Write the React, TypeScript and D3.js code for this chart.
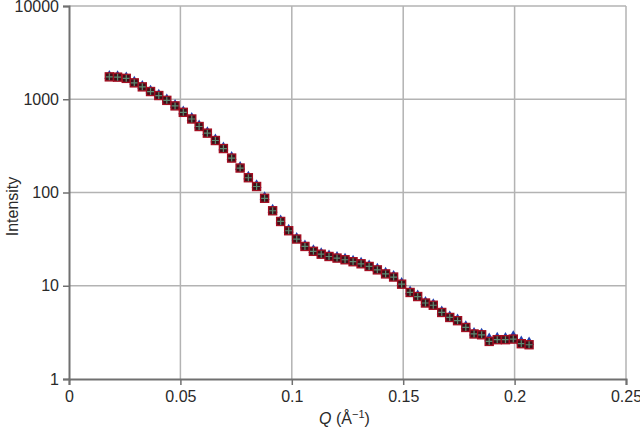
import React, { useEffect, useRef } from 'react';
import * as d3 from 'd3';

// scattering vector Q (1/Å)
const qValues = [
  0.0181, 0.0218, 0.0257, 0.0293, 0.0329, 0.0366, 0.0403, 0.0439, 0.0476, 0.0513,
  0.0551, 0.0584, 0.0621, 0.0657, 0.0693, 0.073, 0.0768, 0.0805, 0.0842, 0.0878,
  0.0914, 0.095, 0.0986, 0.1022, 0.1059, 0.1097, 0.1132, 0.1167, 0.1203, 0.1239,
  0.1275, 0.1311, 0.1347, 0.1384, 0.1421, 0.1457, 0.1493, 0.1531, 0.1565, 0.16,
  0.1635, 0.1673, 0.1709, 0.1744, 0.1781, 0.1818, 0.1852, 0.1886, 0.1922, 0.1959,
  0.1994, 0.203, 0.2065,
];

// measured intensity (squares)
const intensityA = [
  1738, 1726, 1675, 1499, 1358, 1210, 1096, 973, 849, 724,
  614, 510, 433, 361, 296, 234, 183, 144, 116, 86.7,
  63.7, 48.9, 38.9, 31.7, 26.4, 23.4, 21.8, 20.6, 19.8, 19.0,
  18.1, 17.2, 16.1, 14.8, 13.4, 12.4, 10.4, 8.47, 7.66, 6.53,
  6.18, 5.17, 4.57, 4.22, 3.57, 3.04, 2.98, 2.53, 2.64, 2.64,
  2.68, 2.39, 2.33,
];

// second data set (triangles)
const intensityB = [
  1740, 1728, 1680, 1505, 1360, 1212, 1098, 975, 851, 726,
  616, 512, 434, 362, 297, 235, 184, 145, 117, 87.0,
  64.0, 49.1, 39.0, 31.8, 26.5, 23.5, 21.9, 20.7, 19.9, 19.1,
  18.2, 17.3, 16.2, 14.9, 13.5, 12.5, 10.5, 8.5, 7.7, 6.56,
  6.2, 5.2, 4.6, 4.25, 3.6, 3.06, 3.0, 2.66, 2.72, 2.7,
  2.82, 2.48, 2.42,
];

const xTicks = [0, 0.05, 0.1, 0.15, 0.2, 0.25];
const yTicks = [1, 10, 100, 1000, 10000];

const App: React.FC = () => {
  const chartRef = useRef<SVGSVGElement | null>(null);

  useEffect(() => {
    if (!chartRef.current) return;
    const width = 640;
    const height = 433;
    const margin = { top: 6, right: 14, bottom: 54, left: 69 };
    const innerW = width - margin.left - margin.right;
    const innerH = height - margin.top - margin.bottom;

    const svg = d3.select(chartRef.current);
    svg.selectAll('*').remove();
    svg.attr('width', width).attr('height', height);

    const font = '"Liberation Sans", Arial, sans-serif';

    const x = d3.scaleLinear().domain([0, 0.25]).range([0, innerW]);
    const y = d3.scaleLog().domain([1, 10000]).range([innerH, 0]);

    const g = svg.append('g').attr('transform', `translate(${margin.left},${margin.top})`);

    // gridlines
    g.selectAll('.vgrid')
      .data(xTicks.slice(1))
      .enter().append('line')
      .attr('x1', d => x(d)).attr('x2', d => x(d))
      .attr('y1', 0).attr('y2', innerH)
      .attr('stroke', '#b3b3b3').attr('stroke-width', 1.5);
    g.selectAll('.hgrid')
      .data(yTicks.slice(1))
      .enter().append('line')
      .attr('x1', 0).attr('x2', innerW)
      .attr('y1', d => y(d)).attr('y2', d => y(d))
      .attr('stroke', '#b3b3b3').attr('stroke-width', 1.5);

    // axes
    const xAxis = g.append('g')
      .attr('transform', `translate(0,${innerH})`)
      .call(d3.axisBottom(x).tickValues(xTicks).tickSize(6).tickPadding(6)
        .tickFormat(d => String(d)));
    const yAxis = g.append('g')
      .call(d3.axisLeft(y).tickValues(yTicks).tickSize(6).tickPadding(4)
        .tickFormat(d => String(d)));
    [xAxis, yAxis].forEach(a => {
      a.select('.domain').attr('stroke', '#707070').attr('stroke-width', 2);
      a.selectAll('.tick line').attr('stroke', '#707070').attr('stroke-width', 1.5);
      a.selectAll('.tick text')
        .attr('fill', '#2a2a2a')
        .style('font-family', font)
        .style('font-size', '16px');
    });

    // triangles (behind)
    const triPath = d3.symbol().type(d3.symbolTriangle).size(44)();
    g.selectAll('.tri')
      .data(qValues)
      .enter().append('path')
      .attr('d', triPath)
      .attr('transform', (d, i) => `translate(${x(d)},${y(intensityB[i]) - 1})`)
      .attr('fill', '#1f3fae');

    // squares with plus
    const pts = g.selectAll('.pt')
      .data(qValues)
      .enter().append('g')
      .attr('transform', (d, i) => `translate(${x(d)},${y(intensityA[i])})`);
    pts.append('rect')
      .attr('x', -4).attr('y', -4)
      .attr('width', 8).attr('height', 8)
      .attr('fill', '#3e0f19')
      .attr('stroke', '#a30f22').attr('stroke-width', 1.4);
    pts.append('path')
      .attr('d', 'M-3.5,0H3.5M0,-3.5V3.5')
      .attr('stroke', '#5b8a70').attr('stroke-width', 1.2);

    // axis titles
    svg.append('text')
      .attr('transform', `translate(12,${margin.top + innerH / 2 + 14}) rotate(-90)`)
      .attr('text-anchor', 'middle')
      .attr('dy', '0.35em')
      .style('font-family', font)
      .style('font-size', '16px')
      .attr('fill', '#2a2a2a')
      .text('Intensity');

    const title = svg.append('text')
      .attr('x', margin.left + innerW / 2 - 3)
      .attr('y', 424)
      .attr('text-anchor', 'middle')
      .style('font-family', font)
      .style('font-size', '16px')
      .attr('fill', '#2a2a2a');
    title.append('tspan').style('font-style', 'italic').text('Q');
    title.append('tspan').text(' (Å');
    title.append('tspan').attr('dy', -6).style('font-size', '11px').text('−1');
    title.append('tspan').attr('dy', 6).text(')');
  }, []);

  return <svg ref={chartRef} style={{ position: 'absolute', left: 0, top: 0 }}></svg>;
};

export default App;
